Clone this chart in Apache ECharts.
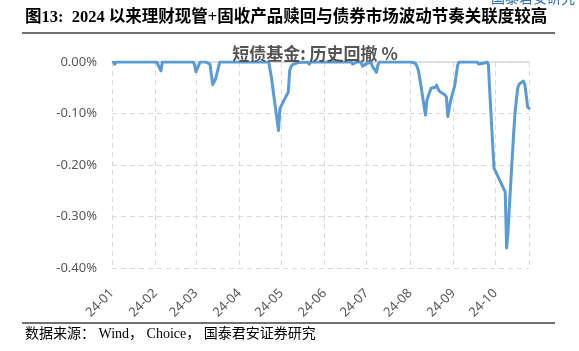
<!DOCTYPE html>
<html>
<head>
<meta charset="utf-8">
<script src="https://cdn.jsdelivr.net/npm/echarts@6/dist/echarts.min.js"></script>
<style>
html,body{margin:0;padding:0;background:#fff;}
#c{width:579px;height:351px;}
</style>
</head>
<body>
<div id="c"></div>
<script>
const figureTitle = '图13:  2024 以来理财现管+固收产品赎回与债券市场波动节奏关联度较高';
const chartTitle = '短债基金: 历史回撤 %';
const sourceText = '数据来源： Wind， Choice， 国泰君安证券研究';
const yTicks = [-0.4, -0.3, -0.2, -0.1, 0];

const dates = [
'2024-01-02','2024-01-03','2024-01-04','2024-02-02','2024-02-05','2024-02-06',
'2024-02-28','2024-02-29','2024-03-01','2024-03-04','2024-03-08','2024-03-11',
'2024-03-12','2024-03-13','2024-03-14','2024-03-15','2024-03-18','2024-04-22',
'2024-04-23','2024-04-24','2024-04-25','2024-04-26','2024-04-29','2024-04-30',
'2024-05-06','2024-05-07','2024-05-08','2024-05-09','2024-05-10','2024-05-13',
'2024-05-14','2024-05-20','2024-05-21','2024-05-22','2024-06-20','2024-06-21',
'2024-06-24','2024-06-27','2024-06-28','2024-07-01','2024-07-02','2024-07-04',
'2024-07-05','2024-07-08','2024-07-09','2024-07-10','2024-08-02','2024-08-05',
'2024-08-06','2024-08-07','2024-08-08','2024-08-09','2024-08-12','2024-08-13',
'2024-08-14','2024-08-15','2024-08-16','2024-08-19','2024-08-20','2024-08-21',
'2024-08-22','2024-08-23','2024-08-26','2024-08-27','2024-08-28','2024-08-29',
'2024-08-30','2024-09-02','2024-09-03','2024-09-04','2024-09-05','2024-09-18',
'2024-09-19','2024-09-20','2024-09-23','2024-09-24','2024-09-25','2024-09-26',
'2024-09-27','2024-09-30','2024-10-08','2024-10-09','2024-10-10','2024-10-11',
'2024-10-14','2024-10-15','2024-10-16','2024-10-17','2024-10-18','2024-10-21',
'2024-10-22','2024-10-23','2024-10-24','2024-10-25'
];
const drawdown = [
0,-0.004,0,0,-0.017,0,
0,-0.006,-0.019,0,0,-0.004,
-0.025,-0.044,-0.047,-0.033,0,0,
-0.003,-0.031,-0.052,-0.073,-0.133,-0.09,
-0.058,-0.016,-0.009,-0.005,-0.003,-0.001,
0,0,-0.004,0,0,-0.004,
0,0,-0.008,-0.003,0,0,
-0.008,-0.02,-0.006,0,0,-0.003,
-0.009,-0.017,-0.033,-0.05,-0.103,-0.075,
-0.066,-0.063,-0.051,-0.049,-0.045,-0.052,
-0.057,-0.06,-0.064,-0.068,-0.106,-0.09,
-0.075,-0.045,-0.025,-0.006,0,0,
-0.004,-0.004,-0.002,0,0,-0.005,
-0.06,-0.206,-0.252,-0.361,-0.33,-0.28,
-0.14,-0.099,-0.072,-0.05,-0.043,-0.037,
-0.043,-0.064,-0.087,-0.09
];
const xMin = '2024-01-01';
const xMax = '2024-10-25';

const chart = echarts.init(document.getElementById('c'), null, {renderer: 'canvas'});
const seriesData = dates.map((d, i) => [d, drawdown[i]]);
const grey = '#595959';
const gridColor = '#D9D9D9';
const serifFont = '"Liberation Serif", "Noto Sans CJK SC", serif';

chart.setOption({
  animation: false,
  backgroundColor: '#ffffff',
  title: {
    text: chartTitle,
    left: 310, top: 40, textAlign: 'center',
    textStyle: {fontSize: 17, fontWeight: 'bold', color: '#555555', fontFamily: '"Noto Sans CJK SC", sans-serif'}
  },
  graphic: [
    {type: 'text', left: 25, top: 9, style: {text: figureTitle, fontSize: 16.5, fontWeight: 'bold', fill: '#000', fontFamily: serifFont}},
    {type: 'line', shape: {x1: 22, y1: 33, x2: 555, y2: 33}, style: {stroke: '#404040', lineWidth: 1.5}},
    {type: 'line', shape: {x1: 22, y1: 323, x2: 555, y2: 323}, style: {stroke: '#404040', lineWidth: 1.5}},
    {type: 'text', left: 25, top: 327, style: {text: sourceText, fontSize: 14, fill: '#000', fontFamily: serifFont}},
    {type: 'text', right: 4, top: -9, style: {text: '国泰君安研究', fontSize: 14, fill: '#2F6EBA', fontFamily: '"Noto Sans CJK SC", sans-serif'}}
  ],
  grid: {left: 112, right: 50, top: 62, bottom: 83, containLabel: false, outerBoundsMode: 'none'},
  xAxis: [
    {
      type: 'time', min: xMin, max: xMax,
      splitNumber: 10,
      minInterval: 28 * 86400000,
      maxInterval: 31 * 86400000,
      axisLine: {show: false, onZero: false},
      axisTick: {show: false},
      axisLabel: {
        rotate: 45, margin: 23, fontSize: 13, color: grey,
        fontFamily: '"Noto Sans", sans-serif',
        showMaxLabel: false,
        formatter: function (v) {
          const d = new Date(v);
          if (d.getDate() !== 1) return '';
          return '24-' + String(d.getMonth() + 1).padStart(2, '0');
        }
      },
      splitLine: {show: true, lineStyle: {type: [5, 4], color: gridColor, width: 1}}
    },
    {
      type: 'time', min: xMin, max: xMax, position: 'top',
      axisLine: {show: true, onZero: false, lineStyle: {color: gridColor, width: 1.5}},
      axisTick: {show: false}, axisLabel: {show: false}, splitLine: {show: false}
    }
  ],
  yAxis: {
    type: 'value', min: yTicks[0], max: yTicks[yTicks.length - 1], interval: 0.1,
    axisLine: {show: false}, axisTick: {show: false},
    axisLabel: {
      margin: 15, fontSize: 13, color: grey, fontFamily: '"Noto Sans", sans-serif',
      formatter: function (v) { return (Math.abs(v) < 1e-9 ? 0 : v).toFixed(2) + '%'; }
    },
    splitLine: {show: true, lineStyle: {type: [5, 4], color: gridColor, width: 1}}
  },
  series: [{
    type: 'line', xAxisIndex: 0, data: seriesData, showSymbol: false, symbol: 'none',
    lineStyle: {color: '#5B9BD5', width: 3, join: 'round', cap: 'round'},
    z: 3
  }]
});
</script>
</body>
</html>
